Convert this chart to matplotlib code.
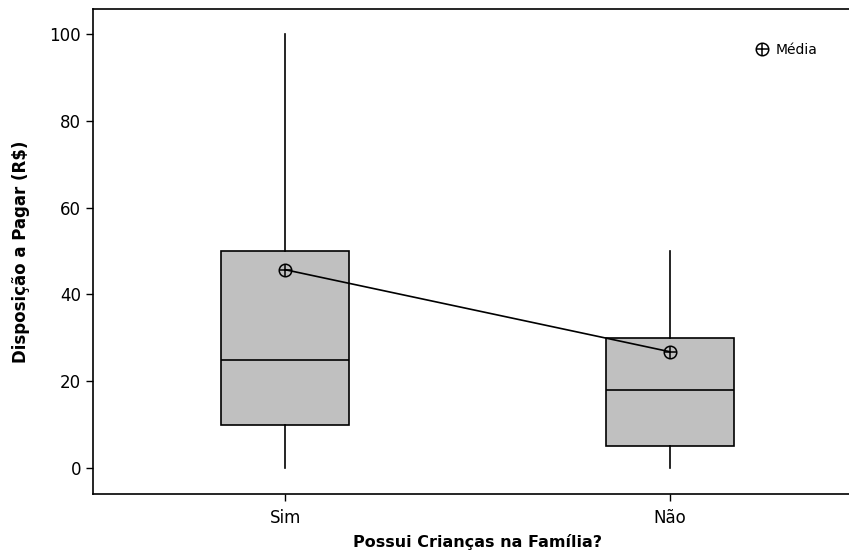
import numpy as np
import matplotlib.pyplot as plt
from matplotlib.lines import Line2D

grupos = ['Sim', 'Não']
q1 = [10, 5]
mediana = [25, 18]
q3 = [50, 30]
minimo = [0, 0]
maximo = [100, 50]
media = [45.7, 26.8]

stats = []
for i in range(len(grupos)):
    stats.append({'label': grupos[i], 'q1': q1[i], 'med': mediana[i], 'q3': q3[i],
                  'whislo': minimo[i], 'whishi': maximo[i], 'fliers': []})

fig = plt.figure(figsize=(8.49, 5.59), dpi=100)
ax = fig.add_axes([93/849, (559-494)/559, (862-93)/849, (494-9)/559])

pos = [1, 2]
ax.bxp(stats, positions=pos, widths=0.334, showcaps=False, patch_artist=True,
       boxprops=dict(facecolor='#c0c0c0', edgecolor='black', linewidth=1.2),
       medianprops=dict(color='black', linewidth=1.2),
       whiskerprops=dict(color='black', linewidth=1.2))

# linha ligando as médias
ax.plot(pos, media, '-', color='black', linewidth=1.2, zorder=3)
ax.plot(pos, media, 'o', markersize=9, markerfacecolor='none', markeredgecolor='black',
        markeredgewidth=1.1, zorder=4)
ax.plot(pos, media, '+', markersize=9, color='black', markeredgewidth=1.1, zorder=4)

ax.set_xlim(0.5, 2.5)
ax.set_ylim(-6, 105.8)
ax.set_yticks([0, 20, 40, 60, 80, 100])
ax.set_xticks(pos)
ax.set_xticklabels(grupos)
ax.tick_params(labelsize=12, length=5, width=1)
ax.tick_params(axis='x', pad=6)
for s in ax.spines.values():
    s.set_linewidth(1.2)
ax.spines['right'].set_visible(False)

ax.set_xlabel('Possui Crianças na Família?', fontsize=11.5, fontweight='bold', labelpad=5)
ax.set_ylabel('Disposição a Pagar (R$)', fontsize=12, fontweight='bold', labelpad=14)

# legenda
h = [(Line2D([], [], marker='o', markersize=9, markerfacecolor='none', markeredgecolor='black',
             linestyle='none', markeredgewidth=1.1),
      Line2D([], [], marker='+', markersize=9, color='black', linestyle='none', markeredgewidth=1.1))]
ax.legend(h, ['Média'], loc='upper right', bbox_to_anchor=(830/849, 0.945),
          bbox_transform=fig.transFigure, frameon=False, fontsize=10,
          handlelength=1, handletextpad=0.5)

fig.savefig('out.png', dpi=100)
